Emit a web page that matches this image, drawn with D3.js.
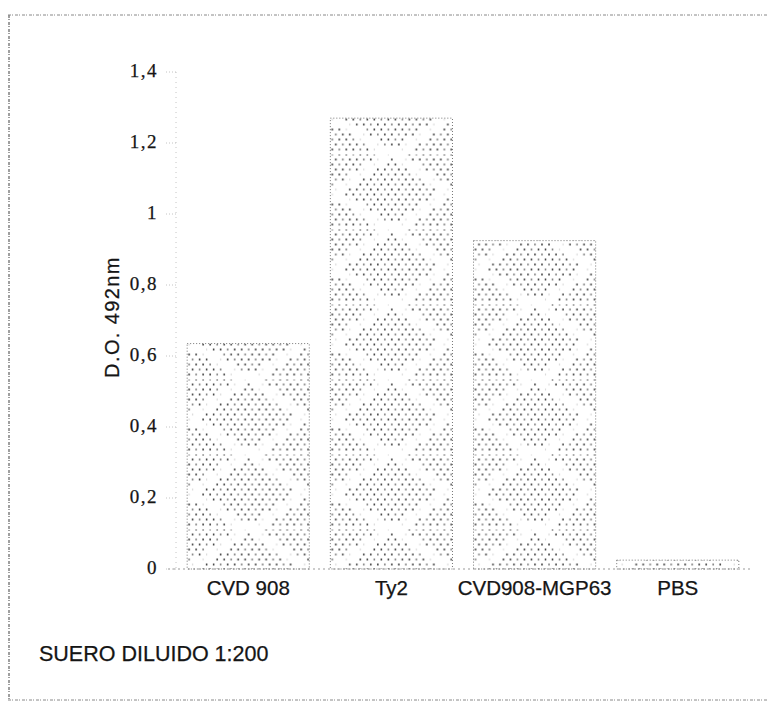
<!DOCTYPE html>
<meta charset="utf-8">
<head>
    <title>D.O. 492nm - suero diluido 1:200</title>
    <style>
        body { margin: 0; background: #fff; }
        text { fill: #151515; stroke: #151515; stroke-width: 0.25px; }
    </style>
</head>
<body>
<script src="https://d3js.org/d3.v7.min.js"></script>
<script>
    // data
    var categories = ["CVD 908", "Ty2", "CVD908-MGP63", "PBS"];
    var values = [0.635, 1.27, 0.925, 0.025];
    var yTicks = [0, 0.2, 0.4, 0.6, 0.8, 1, 1.2, 1.4];
    var yTickLabels = ["0", "0,2", "0,4", "0,6", "0,8", "1", "1,2", "1,4"];
    var yLabel = "D.O. 492nm";
    var note = "SUERO DILUIDO 1:200";

    var width = 767, height = 706;

    var svg = d3.select("body").append("svg")
        .attr("width", width)
        .attr("height", height);

    // scales
    var y = d3.scaleLinear().domain([0, 1.4]).range([569, 72]);
    var x = d3.scaleBand().domain(categories).range([180, 746]).paddingInner(0.147).paddingOuter(0.05);

    // frame of the scanned page
    var frame = svg.append("g").attr("stroke", "#888").attr("stroke-dasharray", "3,1,1,2").attr("fill", "none");
    frame.append("line").attr("x1", 8).attr("x2", width).attr("y1", 15).attr("y2", 15);
    frame.append("line").attr("x1", 9).attr("x2", 9).attr("y1", 15).attr("y2", 700).attr("stroke-width", 1.6);
    frame.append("line").attr("x1", 8).attr("x2", width).attr("y1", 700).attr("y2", 700);

    // dotted argyle pattern, one per bar so it lines up with the bar edges
    var defs = svg.append("defs");
    var tileH = 75;
    categories.forEach(function(c, i) {
        var w = x.bandwidth();
        var p = defs.append("pattern")
            .attr("id", "pat" + i)
            .attr("patternUnits", "userSpaceOnUse")
            .attr("x", x(c))
            .attr("y", 492 - tileH / 2)
            .attr("width", w)
            .attr("height", tileH);
        var centers = [[w / 2, tileH / 2], [0, 0], [w, 0], [0, tileH], [w, tileH]];
        var stepX = 7, stepY = 5;
        for (var gy = 0; gy < tileH; gy += stepY) {
            var row = Math.round(gy / stepY);
            for (var gx = (row % 2) * stepX / 2 + 2; gx < w; gx += stepX) {
                var inside = centers.some(function(cc) {
                    return Math.abs(gx - cc[0]) / (w * 0.4) + Math.abs(gy - cc[1]) / (tileH * 0.45) < 1;
                });
                var col = Math.round(gx / stepX);
                if (inside) {
                    p.append("circle").attr("cx", gx).attr("cy", gy).attr("r", 0.95)
                        .attr("fill", (row + col) % 3 == 0 ? "#777" : "#333");
                } else if ((row + col) % 4 == 0) {
                    p.append("circle").attr("cx", gx).attr("cy", gy).attr("r", 0.7).attr("fill", "#c4c4c4");
                }
            }
        }
    });

    // axis lines
    svg.append("line")
        .attr("x1", 176).attr("x2", 176)
        .attr("y1", y(1.4)).attr("y2", y(0))
        .attr("stroke", "#c4c4c4").attr("stroke-dasharray", "1,4");
    svg.append("line")
        .attr("x1", 168).attr("x2", 752)
        .attr("y1", y(0)).attr("y2", y(0))
        .attr("stroke", "#999").attr("stroke-dasharray", "2,3");

    // y axis ticks and labels
    var yAxis = svg.append("g").attr("class", "y axis");
    yAxis.selectAll("line")
        .data(yTicks)
        .enter().append("line")
        .attr("x1", 166).attr("x2", 176)
        .attr("y1", function(d) { return y(d); })
        .attr("y2", function(d) { return y(d); })
        .attr("stroke", "#c4c4c4").attr("stroke-dasharray", "1,2");
    yAxis.selectAll("text")
        .data(yTicks)
        .enter().append("text")
        .attr("x", 158)
        .attr("y", function(d) { return y(d) + 5; })
        .attr("text-anchor", "end")
        .style("font-family", "Liberation Serif, serif")
        .style("font-size", "19px")
        .style("letter-spacing", "1.5px")
        .text(function(d, i) { return yTickLabels[i]; });

    svg.append("text")
        .attr("transform", "translate(119,317) rotate(-90)")
        .attr("text-anchor", "middle")
        .style("font-family", "Liberation Sans, Arial, sans-serif")
        .style("font-size", "20px")
        .style("letter-spacing", "1.4px")
        .text(yLabel);

    // bars
    svg.append("g").attr("class", "bars")
        .selectAll("rect")
        .data(values)
        .enter().append("rect")
        .attr("x", function(d, i) { return x(categories[i]); })
        .attr("y", function(d) { return y(d); })
        .attr("width", x.bandwidth())
        .attr("height", function(d) { return y(0) - y(d); })
        .attr("fill", function(d, i) { return "url(#pat" + i + ")"; })
        .attr("stroke", "#777")
        .attr("stroke-width", 1)
        .attr("stroke-dasharray", "1,2");

    // category labels
    svg.append("g").attr("class", "x axis")
        .selectAll("text")
        .data(categories)
        .enter().append("text")
        .attr("x", function(d) { return x(d) + x.bandwidth() / 2; })
        .attr("y", 595)
        .attr("text-anchor", "middle")
        .style("font-family", "Liberation Sans, Arial, sans-serif")
        .style("font-size", "20.5px")
        .text(function(d) { return d; });

    svg.append("text")
        .attr("x", 39)
        .attr("y", 661)
        .style("font-family", "Liberation Sans, Arial, sans-serif")
        .style("font-size", "21.5px")
        .text(note);
</script>
</body>
</html>
